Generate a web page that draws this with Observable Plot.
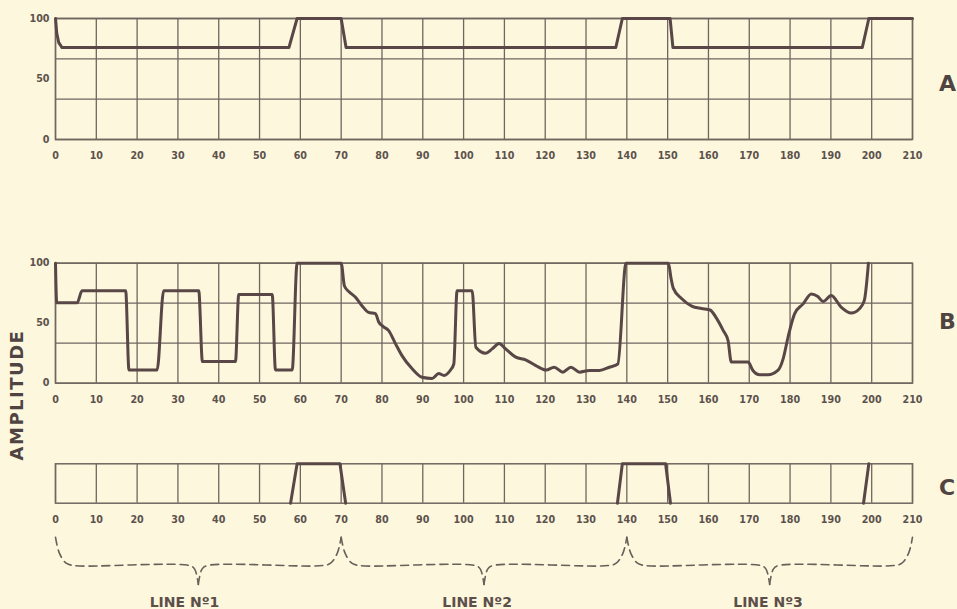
<!DOCTYPE html>
<html>
<head>
<meta charset="utf-8">
<script src="https://cdn.jsdelivr.net/npm/d3@7"></script>
<script src="https://cdn.jsdelivr.net/npm/@observablehq/plot@0.6"></script>
<style>
  html, body { margin: 0; padding: 0; background: #fcf7dd; }
  #root { position: relative; width: 957px; height: 609px; background: #fcf7dd; overflow: hidden; font-family: "DejaVu Sans", sans-serif; }
  .panel { position: absolute; left: 0; }
  .letter { position: absolute; font-weight: bold; font-size: 22px; color: #4f4442; }
  #amp { position: absolute; left: 16px; top: 395px; transform: translate(-50%, -50%) rotate(-90deg); font-weight: bold; font-size: 18px; letter-spacing: 1.5px; color: #4f4442; white-space: nowrap; }
</style>
</head>
<body>
<div id="root"></div>
<script>
// ---- data ----
const xTicks = [0,10,20,30,40,50,60,70,80,90,100,110,120,130,140,150,160,170,180,190,200,210];
const yTicks = [0, 50, 100];
const yGrid = [0, 100/3, 200/3, 100];

// Panel A (wave A)
const aX = [0, 0.3, 0.8, 1.6, 57.2, 59.2, 70.0, 71.2, 137.3, 138.9, 150.6, 151.3, 197.7, 199.3, 210];
const aY = [100, 88, 80, 76, 76, 100, 100, 76, 76, 100, 100, 76, 76, 100, 100];

// Panel B (wave B)
const bX = [0, 0.3, 5.3, 6.5, 17.2, 18.0, 24.9, 26.5, 35.1, 36.0, 44.1, 44.9, 53.1, 53.9, 58.0, 59.2, 70.0,
  70.8, 72.0, 73.4, 75.0, 76.7, 78.4, 79.2, 80.4, 81.6, 83.3, 84.9, 87.4, 89.8, 92.3, 93.9, 95.2, 96.8, 97.6,
  98.4, 102.1, 103.0, 105.4, 107.0, 108.7, 110.3, 112.8, 115.2, 117.7, 120.2, 122.2, 124.3, 126.3, 128.4, 130.8, 133.3, 135.7, 137.8, 139.8,
  150.2, 150.8, 151.4, 153.4, 155.9, 158.3, 160.4, 162.0, 163.6, 164.8, 165.6, 169.7, 170.9, 172.6, 174.6, 177.0, 178.3, 179.5, 181.1, 183.2, 185.2, 186.8, 188.1, 190.1, 192.5, 195.0, 197.0, 198.2, 199.2];
const bY = [100, 67, 67, 77, 77, 11, 11, 77, 77, 18, 18, 74, 74, 11, 11, 100, 100,
  81, 76, 72, 65, 59, 58, 51, 47, 44, 33, 23, 12, 5, 4, 8, 6.5, 11, 16,
  77, 77, 30, 25, 28.6, 33, 28.6, 21.7, 19.5, 14.7, 11, 13.3, 9.2, 13.3, 9.2, 10.6, 10.6, 13.3, 16, 100,
  100, 88, 79, 70.6, 64.3, 62.3, 61, 54, 44, 35.6, 17.6, 17.6, 10.6, 7, 7, 10.6, 20.3, 38.3, 57.8, 66.1, 74.4, 72.2, 68.1, 73.1, 63.4, 58.4, 62, 69, 100];

// Panel C (pulses, 0 = low, 1 = high; null breaks the trace)
const cX = [57.6, 59.2, 69.7, 71.1, null, 137.7, 138.9, 149.5, 150.7, null, 198.0, 199.3];
const cY = [0, 1, 1, 0, null, 0, 1, 1, 0, null, 0, 1];

// Brace spans and labels
const braceSpans = [[0, 70], [70, 140], [140, 210]];
const lineLabels = ["LINE Nº1", "LINE Nº2", "LINE Nº3"];
const labelX = [31.6, 103.3, 174.6];

// ---- styling ----
const gridColor = "#6f6660";
const inkColor = "#584746";
const textColor = "#5c524d";
const W = 957, ML = 55, MR = 45;

function panel({top, height, mt, mb, xs, ys, yDomain, grid, yAxis, curve}) {
  const data = xs.map((x, i) => ({x, y: ys[i]}));
  const marks = [
    Plot.ruleX(xTicks, {stroke: gridColor, strokeWidth: 1.3}),
  ];
  if (grid) marks.push(Plot.ruleY(yGrid, {stroke: gridColor, strokeWidth: 1.3}));
  marks.push(Plot.frame({stroke: gridColor, strokeWidth: 1.5}));
  marks.push(Plot.line(data, {x: "x", y: "y", curve, stroke: inkColor, strokeWidth: 3, strokeLinejoin: "round", strokeLinecap: "round", defined: d => d.x != null && d.y != null}));
  marks.push(Plot.axisX(xTicks, {tickSize: 0, tickPadding: 13, label: null, tickFormat: d => String(d), fontSize: 9.6, fontWeight: "bold"}));
  if (yAxis) marks.push(Plot.axisY(yTicks, {tickSize: 0, tickPadding: 6, label: null, tickFormat: d => String(d), fontSize: 9.6, fontWeight: "bold"}));
  const svg = Plot.plot({
    width: W, height, marginLeft: ML, marginRight: MR, marginTop: mt, marginBottom: mb,
    x: {domain: [0, 210], label: null},
    y: yAxis ? {domain: yDomain, label: null} : {domain: yDomain, axis: null},
    style: {background: "transparent", color: textColor, fontFamily: "DejaVu Sans, sans-serif", overflow: "visible"},
    marks
  });
  const div = document.createElement("div");
  div.className = "panel";
  div.style.top = top + "px";
  div.appendChild(svg);
  document.getElementById("root").appendChild(div);
}

panel({top: 0, height: 170, mt: 18, mb: 31, xs: aX, ys: aY, yDomain: [0, 100], grid: true, yAxis: true, curve: "linear"});
panel({top: 240, height: 180, mt: 22.7, mb: 37.3, xs: bX, ys: bY, yDomain: [0, 100], grid: true, yAxis: true, curve: "monotone-x"});
panel({top: 440, height: 100, mt: 23.3, mb: 37.3, xs: cX, ys: cY, yDomain: [0, 1], grid: false, yAxis: false, curve: "linear"});

// ---- brace (dashed) ----
const braceHalves = [];
braceSpans.forEach(([a, b], i) => {
  const m = (a + b) / 2;
  const left = [[a, 0], [a + 0.9, 0.65], [a + 2.6, 1.1], [a + 4.6, 1.2], [m - 2.2, 1.2], [m - 0.9, 1.35], [m, 2]];
  const right = left.map(([x, y]) => [a + b - x, y]).reverse();
  left.forEach(([x, y]) => braceHalves.push({x, y, k: i + "L"}));
  right.forEach(([x, y]) => braceHalves.push({x, y, k: i + "R"}));
});
const labels = lineLabels.map((t, i) => ({t, x: labelX[i]}));
const braceSvg = Plot.plot({
  width: W, height: 79, marginLeft: ML, marginRight: MR, marginTop: 6.7, marginBottom: 25,
  x: {domain: [0, 210]},
  y: {domain: [0, 2], reverse: true},
  axis: null,
  style: {background: "transparent", color: textColor, fontFamily: "DejaVu Sans, sans-serif", overflow: "visible"},
  marks: [
    Plot.line(braceHalves, {x: "x", y: "y", z: "k", curve: "catmull-rom", stroke: "#6a5f5a", strokeWidth: 1.6, strokeDasharray: "8,5"}),
    Plot.text(labels, {x: "x", y: 2.75, text: "t", fontSize: 14, fontWeight: "bold", fill: "#5c4f4a"})
  ]
});
const bd = document.createElement("div");
bd.className = "panel";
bd.style.top = "530px";
bd.appendChild(braceSvg);
document.getElementById("root").appendChild(bd);

// ---- letters ----
const root = document.getElementById("root");
[["A", 84], ["B", 322], ["C", 488]].forEach(([t, y]) => {
  const d = document.createElement("div");
  d.className = "letter";
  d.textContent = t;
  d.style.left = "939px";
  d.style.top = (y - 13) + "px";
  root.appendChild(d);
});
const amp = document.createElement("div");
amp.id = "amp";
amp.textContent = "AMPLITUDE";
root.appendChild(amp);
</script>
</body>
</html>
